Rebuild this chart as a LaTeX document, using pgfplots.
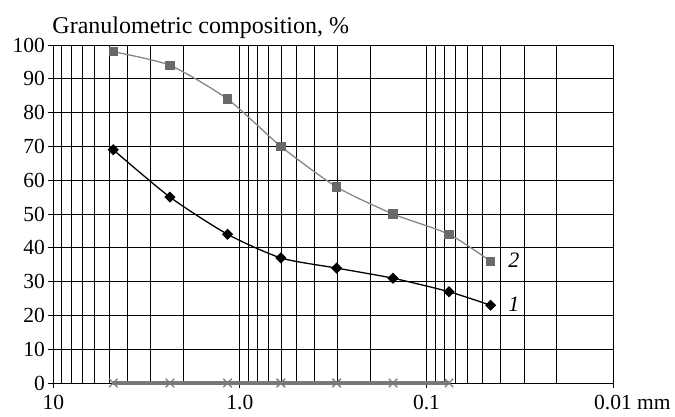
\documentclass[border=0pt]{standalone}
\usepackage{fontspec}
\setmainfont{Liberation Serif}
\usepackage{pgfplots}
\pgfplotsset{compat=1.18}

\definecolor{sergray}{RGB}{105,105,105}
\definecolor{linegray}{RGB}{135,135,135}
\definecolor{zerogray}{RGB}{120,120,120}

\begin{document}
\begin{tikzpicture}
\begin{axis}[
    scale only axis,
    width=559.7pt, height=338pt,
    xmode=log, x dir=reverse,
    xmin=0.01, xmax=10,
    ymin=0, ymax=100,
    xtick={10,1,0.1,0.01},
    xticklabels={10, 1.0, 0.1, 0.01\rlap{ mm}},
    minor xtick={2,3,4,5,6,7,8,9,0.2,0.3,0.4,0.5,0.6,0.7,0.8,0.9,0.02,0.03,0.04,0.05,0.06,0.07,0.08,0.09},
    ytick distance=10,
    grid=both,
    major grid style={black, line width=0.9pt},
    minor grid style={black, line width=0.9pt},
    axis line style={black, line width=1pt},
    tick pos=left, tick align=outside,
    major tick length=5pt, minor tick length=0pt,
    tick style={black, line width=1pt},
    tick label style={font=\fontsize{21.5}{25}\selectfont},
    xticklabel style={yshift=-4pt},
    /pgf/number format/assume math mode=true,
    clip=false,
]
% zero series
\addplot[zerogray, line width=3.2pt, mark=x, mark size=6pt, mark options={line width=1.3pt, zerogray}]
  coordinates {(4.77,0)(2.37,0)(1.164,0)(0.603,0)(0.303,0)(0.151,0)(0.0757,0)};
% series 2
\addplot[linegray, line width=1.3pt, smooth, tension=0.4, mark=square*, mark size=4pt, mark options={fill=sergray, draw=sergray}]
  coordinates {(4.77,98)(2.37,94)(1.164,84)(0.603,70)(0.303,58)(0.151,50)(0.0757,44)(0.0453,36)};
% series 1
\addplot[black, line width=1.3pt, smooth, tension=0.4, mark=square*, mark size=3.3pt, mark options={fill=black, rotate=45}]
  coordinates {(4.77,69)(2.37,55)(1.164,44)(0.603,37)(0.303,34)(0.151,31)(0.0757,27)(0.0453,23)};
\node[anchor=west, font=\fontsize{22}{25}\selectfont\itshape] at (axis cs:0.038,36.3) {2};
\node[anchor=west, font=\fontsize{22}{25}\selectfont\itshape] at (axis cs:0.038,23.4) {1};
\node[anchor=base west, inner sep=0pt, font=\fontsize{24}{28}\selectfont] at (rel axis cs:0,1) [yshift=12pt, xshift=-1pt] {Granulometric composition, \%};
\end{axis}
\pgfresetboundingbox
\path (-53.3pt,-33pt) rectangle (621.7pt,383pt);
\end{tikzpicture}
\end{document}
